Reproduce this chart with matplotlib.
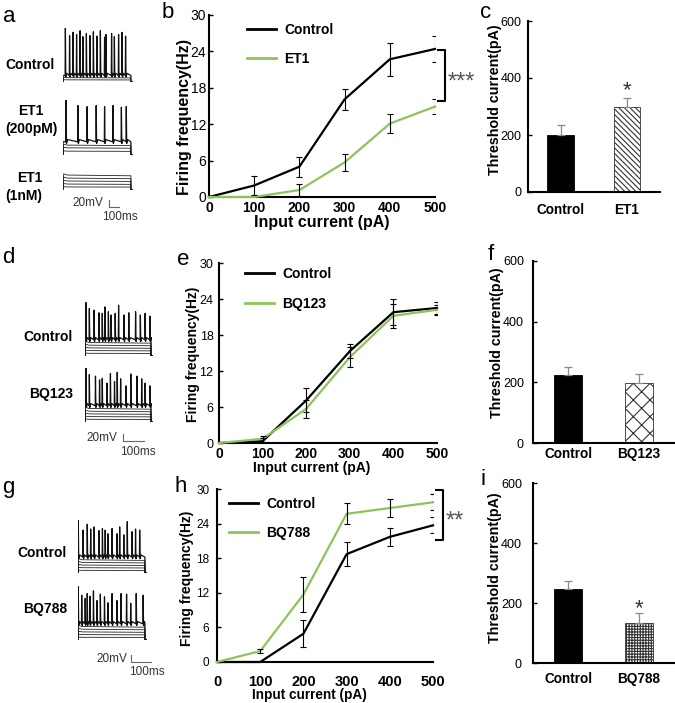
"""
Endothelin receptor figure: firing traces, f-I curves and threshold currents.
"""

import numpy as np
import matplotlib
matplotlib.use("Agg")
import matplotlib.pyplot as plt

plt.rcParams["font.family"] = ["Liberation Sans", "DejaVu Sans"]
plt.rcParams["hatch.linewidth"] = 0.8

# ─────────────────────────────────────────────
# DATA
# ─────────────────────────────────────────────
currents = np.array([0, 100, 200, 300, 400, 500])
freq_ticks = [0, 6, 12, 18, 24, 30]
thr_ticks = [0, 200, 400, 600]

# b: Control vs ET1
b_ctrl     = np.array([0, 1.9, 5.0, 16.1, 22.7, 24.4])
b_ctrl_err = np.array([0, 1.6, 1.65, 1.7, 2.7, 2.1])
b_et1      = np.array([0, 0, 1.15, 5.7, 12.1, 14.9])
b_et1_err  = np.array([0, 0, 1.0, 1.45, 1.5, 1.3])
b_bracket  = (24.3, 15.8)

# e: Control vs BQ123
e_ctrl      = np.array([0, 0.3, 7.1, 15.3, 21.8, 22.5])
e_ctrl_err  = np.array([0, 0.5, 2.0, 1.2, 2.2, 1.0])
e_bq123     = np.array([0, 0.7, 5.7, 14.3, 21.2, 22.2])
e_bq123_err = np.array([0, 0.5, 1.5, 1.7, 2.0, 0.8])

# h: Control vs BQ788
h_ctrl      = np.array([0, 0, 4.9, 18.7, 21.7, 23.7])
h_ctrl_err  = np.array([0, 0, 2.3, 2.1, 1.6, 1.4])
h_bq788     = np.array([0, 1.9, 11.7, 25.7, 26.7, 27.7])
h_bq788_err = np.array([0, 0.4, 3.0, 1.8, 1.6, 1.4])
h_bracket   = (29.9, 21.2)

# threshold currents (pA)
c_names, c_vals, c_err = ["Control", "ET1"],   [200, 299], [35, 30]
f_names, f_vals, f_err = ["Control", "BQ123"], [224, 198], [27, 29]
i_names, i_vals, i_err = ["Control", "BQ788"], [248, 133], [24, 34]
c_star, i_star = 381, 205

# example traces: spike times (fraction of sweep) and peaks (fraction of height)
a_ctrl_t = [0.03, 0.09, 0.14, 0.19, 0.24, 0.28, 0.33, 0.38, 0.43, 0.48, 0.53, 0.59,
            0.61, 0.69, 0.73, 0.79, 0.84, 0.89]
a_ctrl_h = [1.0, 0.86, 0.92, 0.88, 0.95, 0.84, 0.9, 0.86, 0.93, 0.85, 0.95, 0.83,
            0.88, 0.9, 0.84, 0.88, 0.92, 0.85]
a_et1_t = [0.04, 0.21, 0.34, 0.47, 0.59, 0.71, 0.83, 0.90]
a_et1_h = [1.0, 0.9, 0.88, 0.9, 0.88, 0.9, 0.87, 0.88]
d_ctrl_t = [0.01, 0.06, 0.13, 0.2, 0.25, 0.29, 0.34, 0.38, 0.44, 0.49, 0.57, 0.64,
            0.74, 0.81, 0.88, 0.95]
d_ctrl_h = [0.99, 0.88, 0.85, 0.8, 0.79, 0.91, 0.82, 0.76, 0.79, 0.94, 0.76, 0.8,
            0.82, 0.76, 0.79, 0.74]
d_bq_t = [0.01, 0.06, 0.15, 0.21, 0.25, 0.32, 0.37, 0.43, 0.47, 0.52, 0.6, 0.67,
          0.76, 0.83, 0.88, 0.95]
d_bq_h = [1.0, 0.88, 0.85, 0.78, 0.81, 0.72, 0.9, 0.75, 0.92, 0.8, 0.67, 0.89,
          0.85, 0.8, 0.72, 0.67]
g_ctrl_t = [0.0, 0.07, 0.13, 0.18, 0.23, 0.3, 0.35, 0.39, 0.43, 0.49, 0.56, 0.6,
            0.66, 0.71, 0.78, 0.83, 0.89]
g_ctrl_h = [1.0, 0.81, 0.92, 0.83, 0.87, 0.8, 0.84, 0.81, 0.74, 0.84, 0.74, 0.87,
            0.72, 0.97, 0.78, 0.83, 0.81]
g_bq_t = [0.0, 0.05, 0.1, 0.13, 0.17, 0.22, 0.27, 0.32, 0.38, 0.43, 0.49, 0.56,
          0.62, 0.7, 0.76, 0.84, 0.94]
g_bq_h = [1.0, 0.83, 0.77, 0.86, 0.81, 0.91, 0.73, 0.85, 0.8, 0.69, 0.86, 0.73,
          0.86, 0.85, 0.68, 0.86, 0.83]

GREEN = "#8dc45a"
W, H = 675, 703

fig = plt.figure(figsize=(W / 100, H / 100), dpi=100)

# overlay in pixel coordinates for labels / scale bars
ov = fig.add_axes([0, 0, 1, 1])
ov.set_xlim(0, W); ov.set_ylim(H, 0); ov.axis("off")
PX = ov.transData


def px_axes(l, t, r, b):
    return fig.add_axes([l / W, 1 - b / H, (r - l) / W, (b - t) / H])


def style_spines(ax):
    for s in ("top", "right"):
        ax.spines[s].set_visible(False)
    for s in ("left", "bottom"):
        ax.spines[s].set_linewidth(1.5)


# ─────────────────────────────────────────────
# LINE PANELS (b, e, h)
# ─────────────────────────────────────────────
def line_panel(box, ctrl, ctrl_err, trt, trt_err, name, leg_xy, sizes, pads,
               xlab_xy, ylab_xy, bracket=None, stars=""):
    ytick_fs, xtick_fs, lab_fs = sizes
    ax = px_axes(*box)
    ax.plot(currents, ctrl, color="k", lw=1.6, clip_on=False, zorder=3, label="Control")
    ax.plot(currents, trt, color=GREEN, lw=1.6, clip_on=False, zorder=3, label=name)
    for y, e in ((ctrl, ctrl_err), (trt, trt_err)):
        m = e > 0
        ax.errorbar(currents[m], y[m], yerr=e[m], fmt="none", ecolor="k",
                    elinewidth=0.8, capsize=2, capthick=0.8, zorder=4)
    ax.set_xlim(0, 500); ax.set_ylim(0, 30)
    ax.set_xticks(currents)
    ax.set_yticks(freq_ticks)
    ax.tick_params(axis="y", direction="in", length=3, width=1, pad=pads[0],
                   labelsize=ytick_fs)
    ax.tick_params(axis="x", length=0, pad=pads[1], labelsize=xtick_fs)
    for lb in ax.get_xticklabels():
        lb.set_fontweight("bold")
    style_spines(ax)
    ax.set_xlabel("Input current (pA)", fontsize=lab_fs[0], fontweight="bold", va="center")
    ax.set_ylabel("Firing frequency(Hz)", fontsize=lab_fs[1], fontweight="bold", va="center")
    ax.xaxis.set_label_coords(*xlab_xy, transform=PX)
    ax.yaxis.set_label_coords(*ylab_xy, transform=PX)
    leg = ax.legend(loc="upper left", bbox_to_anchor=leg_xy, frameon=False,
                    borderpad=0, borderaxespad=0, handlelength=2.1,
                    handletextpad=0.6, labelspacing=1.1,
                    prop={"weight": "bold", "size": 10})
    for ln in leg.get_lines():
        ln.set_linewidth(2)
    if bracket:
        top, bot = bracket
        ax.plot([507, 522, 522, 507], [top, top, bot, bot], color="k", lw=1.5,
                clip_on=False)
        ax.annotate(stars, (522, (top + bot) / 2), xytext=(2, -5),
                    textcoords="offset points", ha="left", va="center",
                    fontsize=17, color="#555555", annotation_clip=False)
    return ax


line_panel((209, 15, 435, 197), b_ctrl, b_ctrl_err, b_et1, b_et1_err, "ET1",
           (0.168, 0.958), (10, 10, (11.5, 11.5)), (2, 3),
           (321.7, 222), (184.5, 117), b_bracket, "***")
line_panel((219, 263, 437, 443), e_ctrl, e_ctrl_err, e_bq123, e_bq123_err, "BQ123",
           (0.119, 0.976), (9, 10, (10, 10)), (4, 3),
           (311.7, 468), (193.5, 354))
line_panel((217, 489, 433, 662), h_ctrl, h_ctrl_err, h_bq788, h_bq788_err, "BQ788",
           (0.054, 0.955), (8.5, 10.5, (9.8, 10)), (5.5, 9),
           (309.5, 695.5), (186.5, 578), h_bracket, "**")


# ─────────────────────────────────────────────
# BAR PANELS (c, f, i)
# ─────────────────────────────────────────────
def bar_panel(box, names, vals, errs, hatch, xlim, pads, ylab_xy, star=None):
    ax = px_axes(*box)
    x = np.arange(len(vals))
    ax.bar(x[0], vals[0], 0.4, color="k", edgecolor="k", lw=0.6)
    ax.bar(x[1], vals[1], 0.4, color="white", edgecolor="#333333", lw=0.6, hatch=hatch)
    ax.errorbar(x, vals, yerr=[np.zeros(len(errs)), errs], fmt="none",
                ecolor="#8a8a8a", elinewidth=0.9, capsize=3, capthick=0.9)
    ax.set_xlim(*xlim); ax.set_ylim(0, 600)
    ax.set_xticks(x, names)
    ax.set_yticks(thr_ticks)
    ax.tick_params(axis="y", direction="in", length=3, width=1, pad=pads[0], labelsize=9)
    ax.tick_params(axis="x", length=0, pad=pads[1], labelsize=9.8)
    for lb in ax.get_xticklabels():
        lb.set_fontweight("bold")
    style_spines(ax)
    ax.set_ylabel("Threshold current(pA)", fontsize=10.3, fontweight="bold", va="center")
    ax.yaxis.set_label_coords(*ylab_xy, transform=PX)
    if star is not None:
        ax.annotate("*", (x[1], star), xytext=(0, -5), textcoords="offset points",
                    ha="center", va="center", fontsize=16, color="#333333")
    return ax


bar_panel((528, 21, 660, 192), c_names, c_vals, c_err, "\\\\\\\\\\\\",
          (-0.49, 1.5), (4.5, 8), (494.5, 100), c_star)
bar_panel((533, 261, 674, 443), f_names, f_vals, f_err, "xx",
          (-0.5, 1.5), (6.5, 3), (497.5, 343))
bar_panel((533, 483, 674, 663), i_names, i_vals, i_err, "++++++",
          (-0.5, 1.5), (8, 6.3), (494.5, 568), i_star)


# ─────────────────────────────────────────────
# EXAMPLE TRACES (a, d, g)
# ─────────────────────────────────────────────
def trace(box, levels, base=None, spk_t=(), spk_h=()):
    ax = px_axes(*box)
    ax.set_xlim(0, 1); ax.set_ylim(0, 1); ax.axis("off")
    on, off = 0.0, 0.97
    for lv in levels:
        # step with a small initial overshoot and slow sag
        ax.plot([0, on, on + 0.01, on + 0.06, off, off, 1],
                [0, 0, lv * 1.08, lv, lv * 0.95, 0, 0], color="#222222", lw=0.6)
    if base is not None:
        xs, ys = [0, on, on], [0, 0, base]
        for t, h in zip(spk_t, spk_h):
            xs += [t, t + 0.004, t + 0.01, t + 0.025]
            ys += [base, h, base - 0.03, base + 0.04]
        xs += [off, off, 1]; ys += [base, 0, 0]
        ax.plot(xs, ys, color="#111111", lw=0.9)
    return ax


trace((63, 28, 133, 82), [0.04, 0.08], 0.12, a_ctrl_t, a_ctrl_h)
trace((63, 100, 133, 155), [0.07, 0.13, 0.18], 0.24, a_et1_t, a_et1_h)
trace((63, 173, 133, 190), [0.18, 0.35, 0.53, 0.7, 0.88])
trace((85, 302, 153, 356), [0.05, 0.1, 0.15, 0.2, 0.25], 0.3, d_ctrl_t, d_ctrl_h)
trace((85, 368, 153, 422), [0.05, 0.1, 0.15, 0.2, 0.25], 0.3, d_bq_t, d_bq_h)
trace((78, 520, 147, 573), [0.05, 0.1, 0.15, 0.2, 0.25], 0.3, g_ctrl_t, g_ctrl_h)
trace((78, 586, 147, 640), [0.05, 0.1, 0.15, 0.2, 0.25], 0.3, g_bq_t, g_bq_h)

# trace labels
lab = dict(fontsize=10, fontweight="bold", va="center")
ov.text(55, 65, "Control", ha="right", **lab)
ov.text(31, 120, "ET1\n(200pM)", ha="center", multialignment="center",
        linespacing=1.3, **lab)
ov.text(42, 187, "ET1\n(1nM)", ha="right", multialignment="right",
        linespacing=1.3, **lab)
ov.text(73, 337, "Control", ha="right", **lab)
ov.text(73, 394, "BQ123", ha="right", **lab)
ov.text(67, 553, "Control", ha="right", **lab)
ov.text(67, 609, "BQ788", ha="right", **lab)

# scale bars
for (vx, vy0, vy1, hx1), (tx, ty), (mx, my) in [
        ((109, 200, 207, 119), (103, 203), (119.5, 217)),
        ((123, 434, 441, 144), (117, 438), (137.5, 452)),
        ((131, 655, 662, 151), (127, 659), (146.5, 672))]:
    ov.plot([vx, vx, hx1], [vy0, vy1, vy1], color="#666666", lw=0.8)
    ov.text(tx, ty, "20mV", ha="right", va="center", fontsize=8.5, color="#333333")
    ov.text(mx, my, "100ms", ha="center", va="center", fontsize=8.5, color="#333333")

# panel letters
for s, x, y in [("a", 3, 22), ("b", 162, 18), ("c", 480, 18),
                ("d", 2, 263), ("e", 177, 265), ("f", 488, 260),
                ("g", 2, 493), ("h", 175, 492), ("i", 480, 485)]:
    ov.text(x, y, s, fontsize=16, ha="left", va="baseline")

plt.savefig("out.png", dpi=100)
plt.close()
